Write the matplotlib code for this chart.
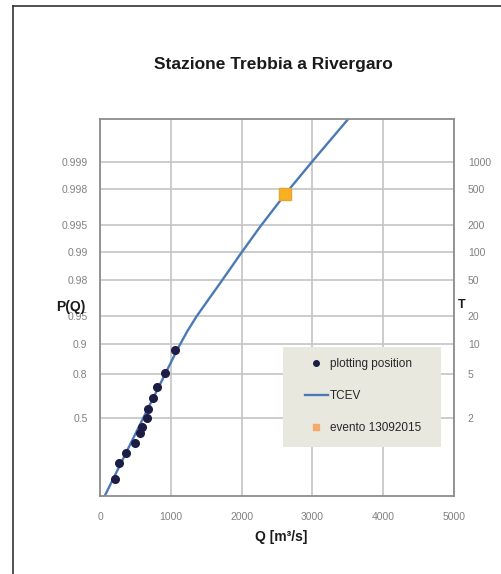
import numpy as np
import matplotlib
matplotlib.use("Agg")
from matplotlib import pyplot as plt
from matplotlib.lines import Line2D
from matplotlib.patches import Rectangle
from matplotlib.ticker import NullLocator

plt.rcParams['font.family'] = ['Liberation Sans', 'DejaVu Sans']

# plotting positions (Q in m3/s, non-exceedance probability)
obs_q = [1060, 918, 805, 753, 682, 660, 589, 565, 494, 367, 273, 212]
obs_p = [0.885, 0.805, 0.733, 0.662, 0.579, 0.503, 0.423, 0.365, 0.272, 0.189, 0.116, 0.038]

# TCEV curve
tcev_q = [70, 590, 1100, 1230, 1365, 1530, 1695, 1850, 2001, 2260, 2613, 3013, 3507]
tcev_p = [0.00706, 0.4767, 0.8900, 0.9270, 0.9500, 0.9669, 0.9781, 0.98526, 0.99000,
          0.99476, 0.99771, 0.999042, 0.999665]

# event of 13/09/2015
event_q = [2610]
event_p = [0.99771]

p_ticks = [0.5, 0.8, 0.9, 0.95, 0.98, 0.99, 0.995, 0.998, 0.999]
p_labels = ['0.5', '0.8', '0.9', '0.95', '0.98', '0.99', '0.995', '0.998', '0.999']
t_ticks = [2, 5, 10, 20, 50, 100, 200, 500, 1000]
q_ticks = [0, 1000, 2000, 3000, 4000, 5000]


def gumbel(p):
    p = np.clip(np.asarray(p, dtype=float), 1e-12, 1 - 1e-12)
    return -np.log(-np.log(p))


def gumbel_inv(y):
    return np.exp(-np.exp(-np.asarray(y, dtype=float)))


W, H = 501, 574
fig = plt.figure(figsize=(W / 100, H / 100), dpi=100)
fig.patch.set_facecolor('white')

ax = fig.add_axes([100 / W, 1 - 495.5 / H, 354 / W, 376.5 / H])
ax.set_yscale('function', functions=(gumbel, gumbel_inv))
ylim = (gumbel_inv(-1.6), gumbel_inv(8.0))
ax.set_ylim(ylim)
ax.set_xlim(0, 5000)

ax.plot(tcev_q, tcev_p, color='#4a7ab5', lw=1.7, zorder=2, solid_joinstyle='round')
ax.plot(obs_q, obs_p, ls='none', marker='o', ms=5.5, color='#1c1c45', zorder=3)
ax.plot(event_q, event_p, ls='none', marker='s', ms=9, mfc='#f7b21d', mec='#eba03a', zorder=4)

ax.set_yticks(p_ticks)
ax.set_yticklabels(p_labels)
ax.yaxis.set_minor_locator(NullLocator())
ax.set_xticks(q_ticks)
ax.tick_params(axis='both', length=0, labelsize=7.5, labelcolor='#808080')
ax.tick_params(axis='y', pad=9)
ax.tick_params(axis='x', pad=12)
ax.grid(True, color='#c4c4c4', lw=1.2)
ax.set_axisbelow(True)
for s in ax.spines.values():
    s.set_color('#8c8c8c')
    s.set_linewidth(1.3)

ax2 = ax.twinx()
ax2.set_yscale('function', functions=(gumbel, gumbel_inv))
ax2.set_ylim(ylim)
ax2.set_yticks([1 - 1 / t for t in t_ticks])
ax2.set_yticklabels([str(t) for t in t_ticks])
ax2.yaxis.set_minor_locator(NullLocator())
ax2.tick_params(axis='y', length=0, labelsize=7.5, labelcolor='#808080', pad=10)
for s in ax2.spines.values():
    s.set_visible(False)

# legend box
ax.add_patch(Rectangle((0.517, 0.129), 0.446, 0.265, transform=ax.transAxes,
                       facecolor='#e9e8df', edgecolor='none', zorder=5))
handles = [
    Line2D([], [], ls='none', marker='o', ms=4, color='#1c1c45'),
    Line2D([], [], color='#4a7ab5', lw=1.7),
    Line2D([], [], ls='none', marker='s', ms=5, mfc='#f5a96a', mec='#f5a96a'),
]
leg = ax.legend(handles, ['plotting position', 'TCEV', 'evento 13092015'],
                loc='upper left', bbox_to_anchor=(0.579, 0.366), frameon=False,
                borderpad=0, borderaxespad=0, handlelength=1.95, handletextpad=0.15,
                labelspacing=1.7, prop={'size': 8.5})
leg.set_zorder(6)
for t in leg.get_texts():
    t.set_color('#262626')

fig.text(273 / W, 1 - 64 / H, 'Stazione Trebbia a Rivergaro', ha='center', va='center',
         fontsize=12.5, fontweight='bold', color='#1a1a1a')
fig.text(71 / W, 1 - 307 / H, 'P(Q)', ha='center', va='center', fontsize=10,
         fontweight='bold', color='#1a1a1a')
fig.text(462 / W, 1 - 305 / H, 'T', ha='center', va='center', fontsize=9,
         fontweight='bold', color='#1a1a1a')
fig.text(281 / W, 1 - 537 / H, 'Q [m³/s]', ha='center', va='center', fontsize=10,
         fontweight='bold', color='#1a1a1a')

# outer chart frame
fig.add_artist(Line2D([13.3 / W, 13.3 / W], [0, 1 - 5.5 / H], transform=fig.transFigure,
                      color='#333333', lw=1.2))
fig.add_artist(Line2D([13.3 / W, 1], [1 - 5.5 / H, 1 - 5.5 / H], transform=fig.transFigure,
                      color='#333333', lw=1.2))

fig.savefig('out.png', dpi=100)
